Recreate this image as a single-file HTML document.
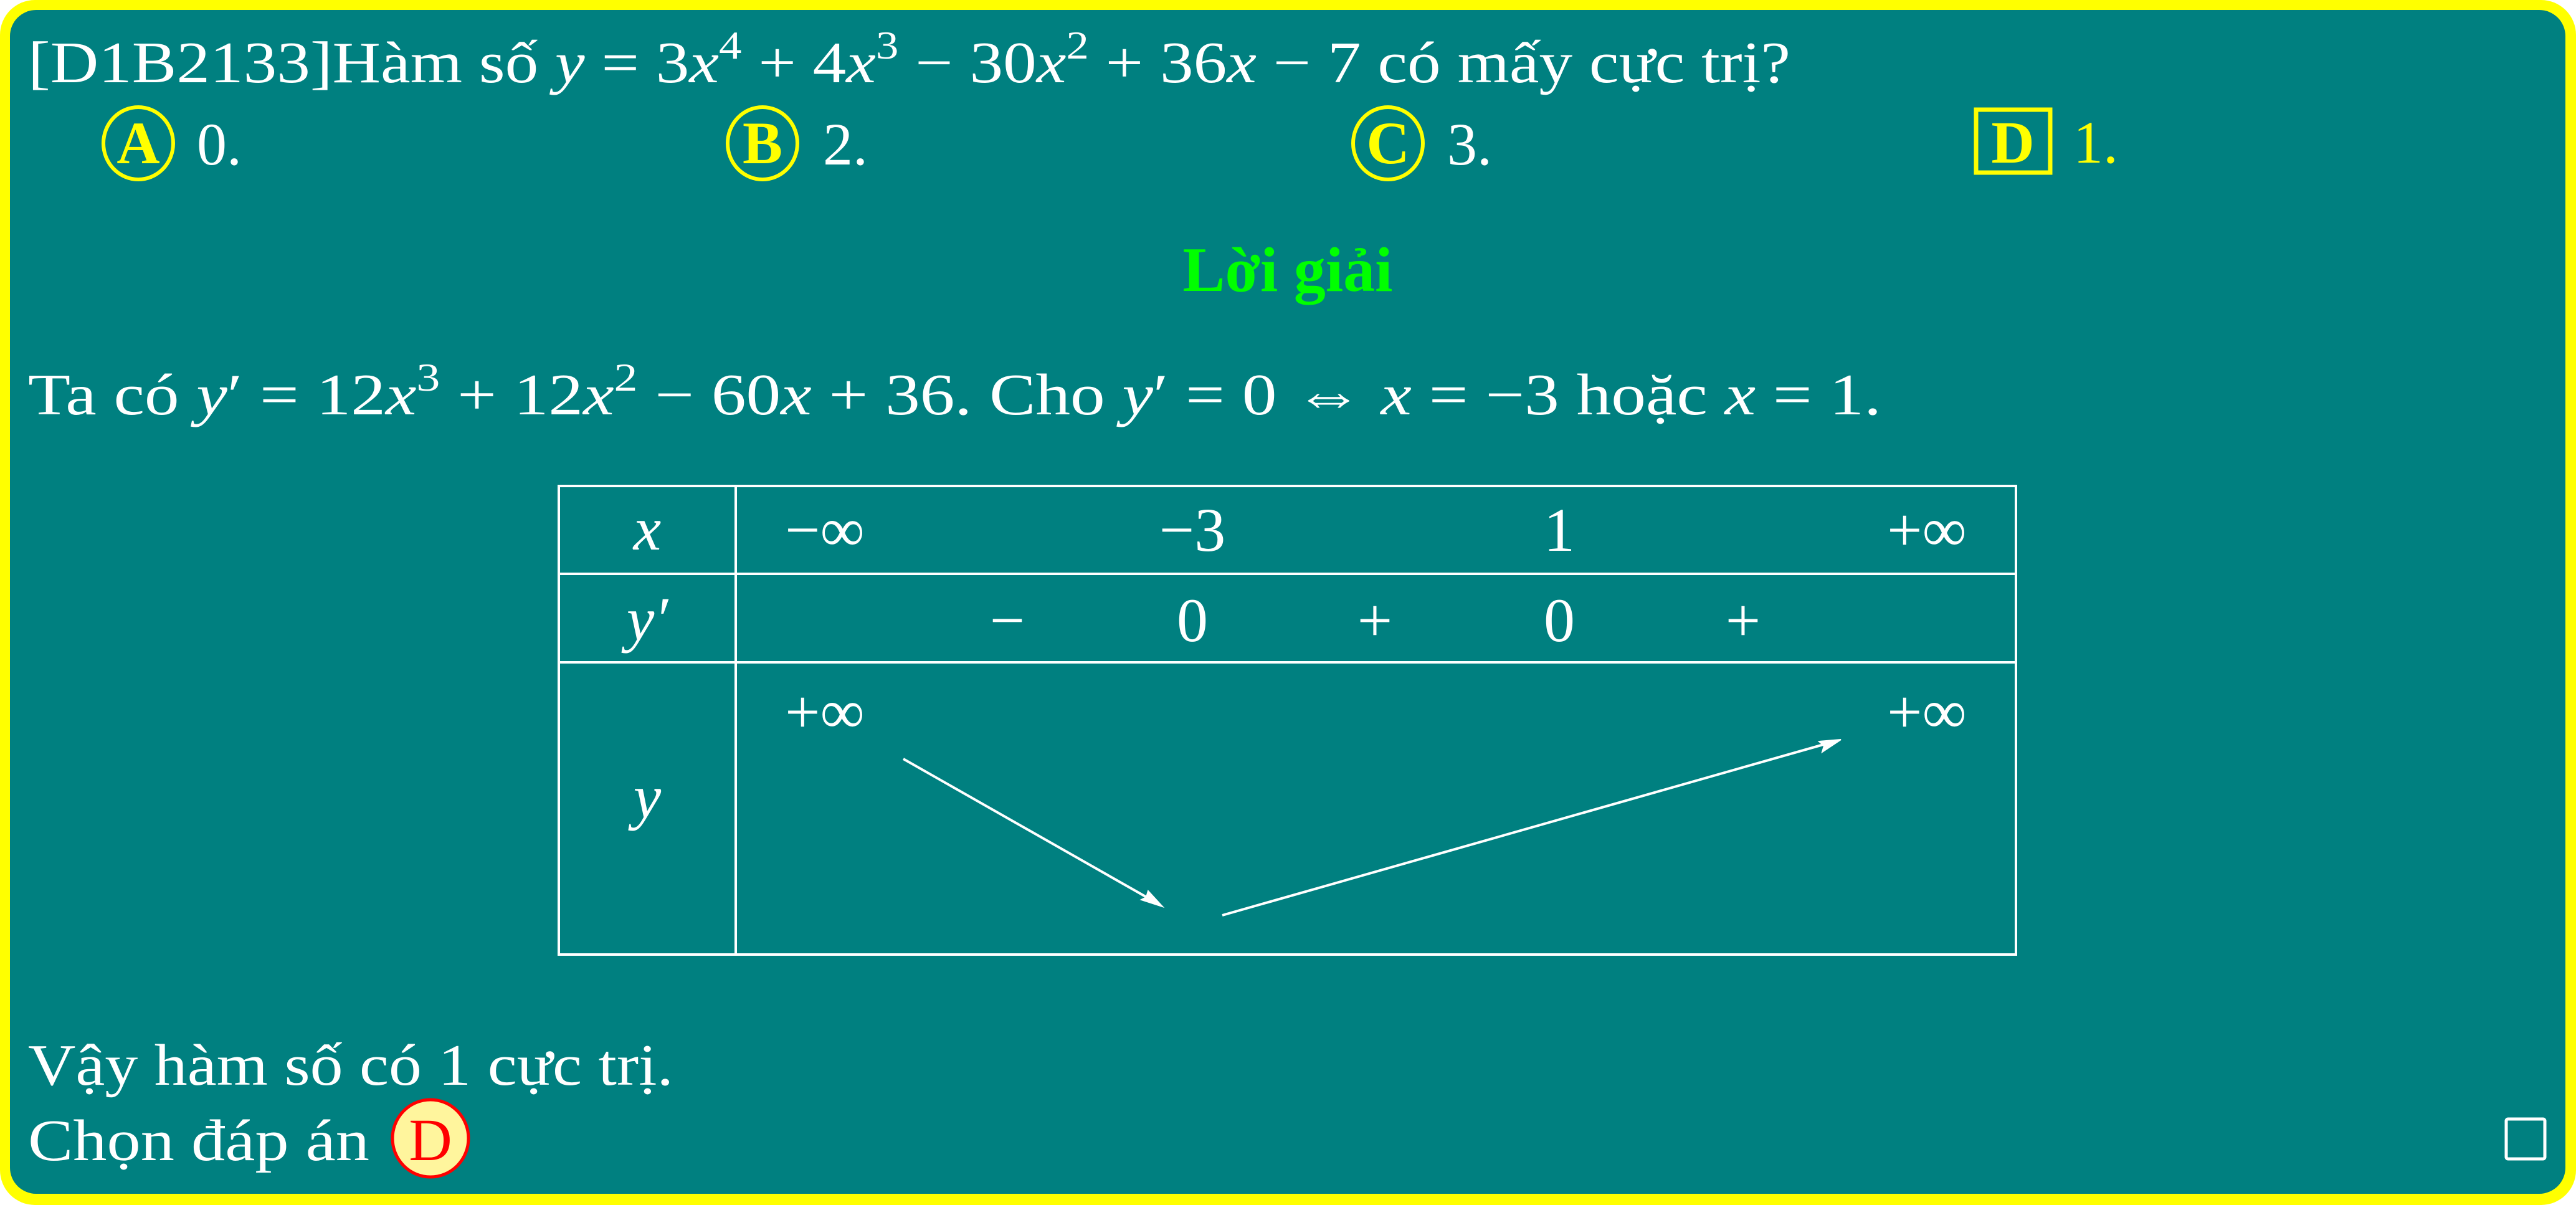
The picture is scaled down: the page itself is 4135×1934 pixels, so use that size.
<!DOCTYPE html>
<html><head><meta charset="utf-8">
<style>
html,body{margin:0;padding:0;background:#fff;}
svg{display:block;}
text{font-family:"Liberation Serif","DejaVu Serif",serif;}
</style></head>
<body>
<svg width="4135" height="1934" viewBox="0 0 4135 1934" xmlns="http://www.w3.org/2000/svg">
  <rect x="0" y="0" width="4135" height="1934" rx="56" fill="#ffff00"/>
  <rect x="16" y="16" width="4102" height="1900" rx="42" fill="#008080"/>

  <text x="45" y="132" font-size="94" fill="#fff" textLength="2829" lengthAdjust="spacingAndGlyphs">[D1B2133]Hàm số <tspan font-style="italic">y</tspan> = 3<tspan font-style="italic">x</tspan><tspan font-size="64" dy="-38">4</tspan><tspan dy="38"> + 4</tspan><tspan font-style="italic">x</tspan><tspan font-size="64" dy="-38">3</tspan><tspan dy="38"> − 30</tspan><tspan font-style="italic">x</tspan><tspan font-size="64" dy="-38">2</tspan><tspan dy="38"> + 36</tspan><tspan font-style="italic">x</tspan> − 7 có mấy cực trị?</text>

  <g>
    <ellipse cx="222" cy="230" rx="56" ry="58" fill="none" stroke="#ffff00" stroke-width="6"/>
    <text x="222" y="262" font-size="96" font-weight="bold" fill="#ffff00" text-anchor="middle">A</text>
    <text x="316" y="264" font-size="96" fill="#fff">0.</text>
  </g>
  <g>
    <ellipse cx="1224" cy="230" rx="56" ry="58" fill="none" stroke="#ffff00" stroke-width="6"/>
    <text x="1224" y="262" font-size="96" font-weight="bold" fill="#ffff00" text-anchor="middle">B</text>
    <text x="1321" y="264" font-size="96" fill="#fff">2.</text>
  </g>
  <g>
    <ellipse cx="2228" cy="230" rx="56" ry="58" fill="none" stroke="#ffff00" stroke-width="6"/>
    <text x="2228" y="262" font-size="96" font-weight="bold" fill="#ffff00" text-anchor="middle">C</text>
    <text x="2323" y="264" font-size="96" fill="#fff">3.</text>
  </g>
  <g>
    <rect x="3172" y="176" width="119" height="101" fill="none" stroke="#ffff00" stroke-width="7"/>
    <text x="3231" y="261" font-size="96" font-weight="bold" fill="#ffff00" text-anchor="middle">D</text>
    <text x="3328" y="261" font-size="96" fill="#ffff00">1.</text>
  </g>

  <text x="2067" y="467" font-size="102" font-weight="bold" fill="#00ff00" text-anchor="middle">Lời giải</text>

  <text x="45" y="665" font-size="94" fill="#fff" textLength="2975" lengthAdjust="spacingAndGlyphs">Ta có <tspan font-style="italic">y</tspan>′ = 12<tspan font-style="italic">x</tspan><tspan font-size="64" dy="-38">3</tspan><tspan dy="38"> + 12</tspan><tspan font-style="italic">x</tspan><tspan font-size="64" dy="-38">2</tspan><tspan dy="38"> − 60</tspan><tspan font-style="italic">x</tspan> + 36. Cho <tspan font-style="italic">y</tspan>′ = 0 ⇔ <tspan font-style="italic">x</tspan> = −3 hoặc <tspan font-style="italic">x</tspan> = 1.</text>

  <g stroke="#fff" stroke-width="4" fill="none">
    <rect x="897" y="780" width="2339" height="752"/>
    <line x1="1181" y1="780" x2="1181" y2="1532"/>
    <line x1="897" y1="921" x2="3236" y2="921"/>
    <line x1="897" y1="1063" x2="3236" y2="1063"/>
  </g>
  <g font-size="100" fill="#fff" text-anchor="middle">
    <text x="1039" y="882" font-style="italic">x</text>
    <text x="1039" y="1027" font-style="italic">y′</text>
    <text x="1039" y="1312" font-style="italic">y</text>
    <text x="1324" y="884">−∞</text>
    <text x="1914" y="884">−3</text>
    <text x="2503" y="884">1</text>
    <text x="3093" y="884">+∞</text>
    <text x="1617" y="1029">−</text>
    <text x="1914" y="1029">0</text>
    <text x="2207" y="1029">+</text>
    <text x="2503" y="1029">0</text>
    <text x="2798" y="1029">+</text>
    <text x="1324" y="1176">+∞</text>
    <text x="3093" y="1176">+∞</text>
  </g>
  <g stroke="#fff" stroke-width="4">
    <line x1="1450" y1="1218" x2="1860" y2="1451"/>
    <polygon points="1866,1455 1832,1444 1840,1440 1843,1430" fill="#fff" stroke-width="2"/>
    <line x1="1962" y1="1469" x2="2948" y2="1189"/>
    <polygon points="2955,1187 2925,1207 2928,1197 2920,1190" fill="#fff" stroke-width="2"/>
  </g>

  <text x="45" y="1741" font-size="94" fill="#fff" textLength="1036" lengthAdjust="spacingAndGlyphs">Vậy hàm số có 1 cực trị.</text>
  <text x="45" y="1862" font-size="94" fill="#fff" textLength="548" lengthAdjust="spacingAndGlyphs">Chọn đáp án</text>
  <g>
    <ellipse cx="691" cy="1827" rx="61" ry="62" fill="#fff59d" stroke="#ff0000" stroke-width="5"/>
    <text x="691" y="1862" font-size="96" fill="#ff0000" text-anchor="middle">D</text>
  </g>
  <rect x="4023" y="1796" width="62" height="64" rx="3" fill="none" stroke="#fff" stroke-width="5"/>
</svg>
</body></html>
